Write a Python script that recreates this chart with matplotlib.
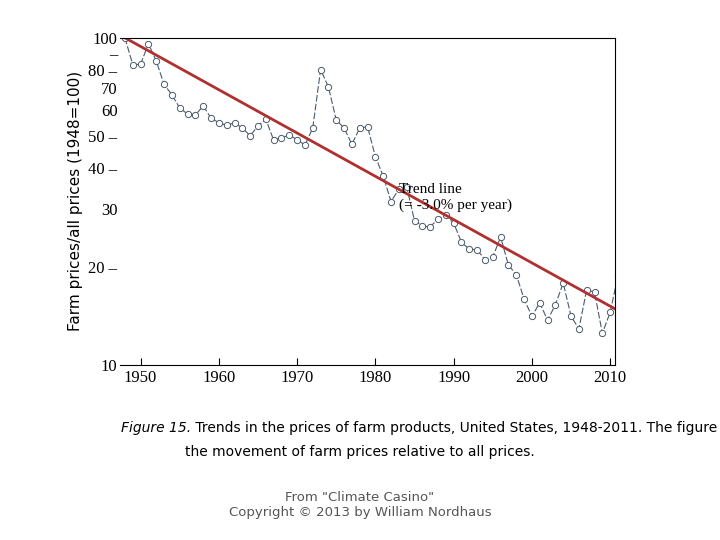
import matplotlib
matplotlib.use("Agg")
import matplotlib.pyplot as plt
import numpy as np

years = list(range(1948, 2012))
values = [100, 82.8, 83, 96, 85, 72, 67, 61, 58.5, 58, 62, 56.8, 55, 54, 55, 53, 50.2, 53.8, 56.4,
          48.7, 49.4, 50.5, 48.8, 47, 53, 80, 70.7, 56.1, 53, 47.3, 53, 53.5,
          43.3, 37.8, 31.6, 34.5, 35, 27.6, 26.6, 26.4, 28, 28.7, 27.2, 23.7, 22.6, 22.5, 21, 21.4,
          24.6, 20.2, 18.9, 15.9, 14.1, 15.5, 13.7, 15.3, 17.8, 14.1, 12.9, 17, 16.7, 12.5, 14.5, 18.8]
trend_start = 100
trend_rate = -0.030
yticks = [10, 20, 30, 40, 50, 60, 70, 80, 90, 100]
ytick_labels = ["10", "20 \u2013", "30", "40 \u2013", "50 \u2013", "60", "70", "80 \u2013", "\u2013", "100"]
xticks = [1950, 1960, 1970, 1980, 1990, 2000, 2010]

fig = plt.figure(figsize=(7.2, 5.4), dpi=100)
ax = fig.add_axes([0.167, 0.324, 0.687, 0.606])
ax.plot(years, values, color="#4a5a6a", lw=0.8, ls=(0, (6, 2)), marker="o", ms=4.5,
        mfc="white", mec="#4a5a6a", mew=0.7)
ty = np.array([1948, 2011])
ax.plot(ty, trend_start * (1 + trend_rate) ** (ty - 1948), color="#b03030", lw=2)
ax.set_yscale("log")
ax.set_ylim(10, 100)
ax.set_xlim(1947.4, 2010.6)
ax.set_yticks(yticks)
ax.set_yticklabels(ytick_labels, family="Liberation Serif", fontsize=12)
ax.minorticks_off()
ax.tick_params(axis="y", length=0, pad=2)
ax.set_xticks(xticks)
ax.set_xticklabels([str(x) for x in xticks], family="Liberation Serif", fontsize=12)
ax.tick_params(axis="x", direction="in", length=5)
ax.spines["left"].set_visible(False)
ax.spines["bottom"].set_linewidth(0.8)
ax.set_ylabel("Farm prices/all prices (1948=100)", fontsize=11)
ax.text(1983, 36, "Trend line\n(= -3.0% per year)", family="Liberation Serif", fontsize=11,
        va="top", ha="left")
fig.text(0.265, 0.2, "Figure 15.", style="italic", fontsize=10, ha="right")
fig.text(0.265, 0.2, " Trends in the prices of farm products, United States, 1948-2011. The figure shows",
         fontsize=10, ha="left")
fig.text(0.5, 0.155, "the movement of farm prices relative to all prices.", fontsize=10, ha="center")
fig.text(0.5, 0.045, "From \"Climate Casino\"\nCopyright \u00a9 2013 by William Nordhaus",
         fontsize=9.5, ha="center", color="#555555")
fig.savefig("out.png", dpi=100)
